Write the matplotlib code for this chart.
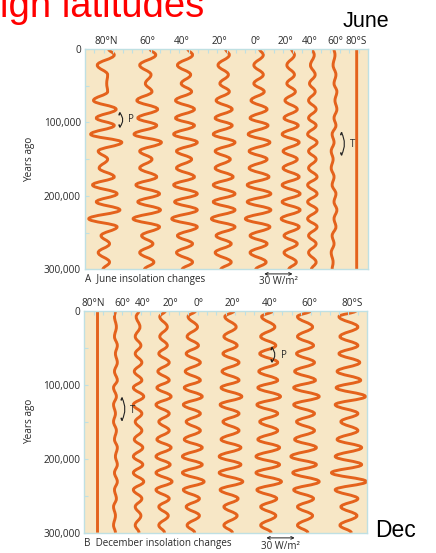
import matplotlib
matplotlib.use("Agg")
import matplotlib.pyplot as plt
from matplotlib.path import Path
from matplotlib.patches import PathPatch

# ---------------- data ----------------
# times of curve turning points, thousands of years ago
T_JUNE = [0, 8, 22, 35, 47, 58, 70, 82, 94, 104, 116, 127, 139, 150, 162,
          174, 185, 197, 208, 219, 231, 242, 254, 265, 277, 290, 300]
T_DEC = T_JUNE

JUNE_LATS = ["80°N", "60°", "40°", "20°", "0°", "20°", "40°", "60°", "80°S"]
DEC_LATS = ["80°N", "60°", "40°", "20°", "0°", "20°", "40°", "60°", "80°S"]

# insolation anomaly (W/m2) at each turning point, June
JUNE_80N = [4, 10, -8, 3, 2, 3, -12, 12, -9, 10, -15, 18, -7, 3, -6, 10, -13, 13, -9, 16, -17, 13, -4, 5, -7, 5, -2]
JUNE_60N = [3, 9, -8, 4, -2, 5, -11, 11, -10, 10, -14, 15, -8, 5, -8, 10, -12, 13, -10, 14, -15, 13, -6, 6, -8, 7, -3]
JUNE_40N = [3, 8, -8, 6, -4, 7, -10, 10, -10, 10, -12, 13, -9, 7, -9, 10, -12, 13, -11, 13, -14, 13, -8, 8, -9, 8, -3]
JUNE_20N = [2, 6, -6, 5, -4, 6, -8, 9, -9, 9, -11, 12, -9, 7, -9, 10, -11, 12, -11, 12, -13, 12, -8, 8, -9, 8, -3]
JUNE_EQ = [1, 5, -5, 5, -5, 6, -8, 9, -9, 10, -11, 12, -10, 9, -10, 11, -12, 13, -12, 13, -14, 12, -9, 9, -9, 8, -3]
JUNE_20S = [1, 4, -4, 4, -4, 5, -6, 7, -7, 8, -9, 9, -8, 7, -8, 9, -9, 10, -9, 10, -10, 9, -7, 7, -7, 6, -2]
JUNE_40S = [0, 2, -2, 3, -3, 3, -4, 4, -4, 4, -5, 5, -4, 4, -4, 5, -5, 5, -5, 5, -5, 5, -4, 4, -4, 4, -1]
JUNE_60S = [0, 1, -1, 2, 0, 3, 1, 3, 0, 2, -2, 0, -3, -1, -3, 0, -2, 2, 0, 3, 0, 2, -2, 0, -3, -1, -2]
JUNE_80S = [0] * 27

# December
DEC_80N = [0] * 27
DEC_60N = [0, -1, 1, -1, 2, 0, 2, -1, 2, -2, 1, -2, 0, -2, 1, -1, 2, 0, 2, -1, 2, -1, 1, -2, 0, -2, 0]
DEC_40N = [1, -2, 2, -3, 3, -3, 4, -4, 4, -5, 6, -5, 4, -3, 4, -4, 5, -5, 5, -5, 6, -5, 4, -3, 3, -3, 1]
DEC_20N = [2, -4, 4, -4, 4, -5, 6, -6, 6, -7, 8, -8, 6, -5, 6, -7, 8, -8, 7, -8, 9, -8, 6, -5, 5, -5, 1]
DEC_EQ = [3, -5, 5, -6, 6, -7, 8, -8, 8, -9, 10, -10, 8, -7, 8, -9, 10, -11, 10, -11, 12, -10, 7, -7, 7, -6, 2]
DEC_20S = [4, -6, 6, -7, 7, -8, 9, -9, 9, -10, 12, -11, 9, -8, 9, -10, 11, -12, 11, -12, 13, -11, 8, -7, 7, -7, 2]
DEC_40S = [5, -7, 7, -8, 8, -9, 10, -10, 10, -11, 13, -12, 10, -9, 10, -11, 12, -13, 12, -13, 14, -12, 9, -8, 8, -8, 3]
DEC_60S = [6, -8, 8, -8, 9, -9, 10, -11, 11, -12, 15, -12, 10, -9, 10, -11, 12, -15, 12, -13, 15, -12, 9, -8, 8, -8, 3]
DEC_80S = [8, -10, 10, -9, 10, -10, 12, -12, 13, -13, 18, -14, 10, -8, 10, -12, 14, -14, 14, -18, 19, -14, 10, -8, 9, -9, 3]

JUNE_SERIES = [JUNE_80N, JUNE_60N, JUNE_40N, JUNE_20N, JUNE_EQ, JUNE_20S, JUNE_40S, JUNE_60S, JUNE_80S]
DEC_SERIES = [DEC_80N, DEC_60N, DEC_40N, DEC_20N, DEC_EQ, DEC_20S, DEC_40S, DEC_60S, DEC_80S]

Y_TICK_LABELS = ["0", "", "100,000", "", "200,000", "", "300,000"]

# ---------------- layout / style ----------------
W, H = 436, 553
BG = "#f7e7c6"
EDGE = "#bfe0e3"
ORANGE = "#e4621c"
TXT = "#2a2a2a"
FONT = "Open Sans"

JUNE_BASE = [21, 66, 106, 147, 184, 218, 241, 264, 288]
JUNE_LABEL_X = [23, 66, 103, 143, 181, 212, 238, 265, 288]
DEC_BASE = [14, 33, 57, 84, 115, 155, 195, 234, 280]
DEC_LABEL_X = [9, 40, 62, 91, 121, 157, 197, 239, 284]

fig = plt.figure(figsize=(W / 100, H / 100), dpi=100)


def wave_path(times, offs, base):
    ys = [t * 1000 for t in times]
    verts = [(base + offs[0], ys[0])]
    codes = [Path.MOVETO]
    for i in range(1, len(ys)):
        d = ys[i] - ys[i - 1]
        verts += [(base + offs[i - 1], ys[i - 1] + 0.4 * d),
                  (base + offs[i], ys[i] - 0.4 * d),
                  (base + offs[i], ys[i])]
        codes += [Path.CURVE4] * 3
    return Path(verts, codes)


def bracket(ax, x, y0, y1, bulge):
    ym = (y0 + y1) / 2
    p = Path([(x, y0), (x + bulge, ym), (x, y1)], [Path.MOVETO, Path.CURVE3, Path.CURVE3])
    ax.add_patch(PathPatch(p, fill=False, edgecolor="#222222", lw=0.8))
    ax.plot([x, x - 0.8], [y0, y0 + 2500], color="#222222", lw=1.2, solid_capstyle="round")
    ax.plot([x, x - 0.8], [y1, y1 - 2500], color="#222222", lw=1.2, solid_capstyle="round")


def make_panel(rect, times, series, bases, label_x, labels, caption):
    ax = fig.add_axes(rect)
    ax.set_facecolor(BG)
    ax.set_xlim(0, 300)
    ax.set_ylim(300000, 0)
    for s in ax.spines.values():
        s.set_color(EDGE)
        s.set_linewidth(1.0)
    for offs, base in zip(series, bases):
        ax.add_patch(PathPatch(wave_path(times, offs, base), fill=False,
                               edgecolor=ORANGE, lw=2.1, capstyle="butt"))
    ax.set_xticks(range(10, 300, 10))
    ax.xaxis.tick_top()
    ax.tick_params(axis="x", direction="in", length=3, color=EDGE, labeltop=False)
    ax.set_yticks(range(0, 300001, 50000))
    ax.set_yticklabels(Y_TICK_LABELS, fontsize=7.2, color=TXT, family=FONT)
    ax.tick_params(axis="y", direction="in", length=3, color=EDGE, pad=3)
    for x, lab in zip(label_x, labels):
        ax.text(x, -2500, lab, ha="center", va="bottom", fontsize=7.2,
                color=TXT, family=FONT)
    ax.set_ylabel("Years ago", fontsize=7.2, color=TXT, family=FONT, labelpad=6)
    ax.text(0, 300000 + 14000, caption, ha="left", va="center", fontsize=7.1,
            color=TXT, family=FONT, clip_on=False)
    return ax


ax1 = make_panel([85 / W, 1 - 269.5 / H, 283 / W, 220.5 / H], T_JUNE, JUNE_SERIES,
                 JUNE_BASE, JUNE_LABEL_X, JUNE_LATS, "A  June insolation changes")
ax2 = make_panel([84.3 / W, 1 - 532.7 / H, 283 / W, 222 / H], T_DEC, DEC_SERIES,
                 DEC_BASE, DEC_LABEL_X, DEC_LATS, "B  December insolation changes")

# scale arrows
for ax, x0, ya, yt in [(ax1, 190, 306000, 317000), (ax2, 193, 307000, 318500)]:
    ax.annotate("", xy=(x0, ya), xytext=(x0 + 30, ya),
                arrowprops=dict(arrowstyle="<->", lw=0.7, color="#222222",
                                shrinkA=0, shrinkB=0, mutation_scale=5),
                annotation_clip=False)
    ax.text(x0 + 15, yt, "30 W/m²", ha="center", va="center", fontsize=7.0,
            color=TXT, family=FONT, clip_on=False)

# P and T brackets
bracket(ax1, 37, 87000, 106000, 6)
ax1.text(46, 96500, "P", fontsize=7, color=TXT, family=FONT, va="center")
bracket(ax1, 272, 114000, 144000, 6)
ax1.text(281, 130000, "T", fontsize=7, color=TXT, family=FONT, va="center")
bracket(ax2, 40, 118000, 148000, 6)
ax2.text(48, 135000, "T", fontsize=7, color=TXT, family=FONT, va="center")
bracket(ax2, 199, 50000, 69000, 6)
ax2.text(208, 61000, "P", fontsize=7, color=TXT, family=FONT, va="center")

# slide texts
fig.text(0, 1 - 17 / H, "igh latitudes", color="#ff0000", fontsize=27.5,
         family="Liberation Sans", ha="left", va="baseline")
fig.text(343 / W, 1 - 27 / H, "June", color="black", fontsize=15.5,
         family="Liberation Sans", ha="left", va="baseline")
fig.text(375 / W, 1 - 537 / H, "Dec", color="black", fontsize=16.5,
         family="Liberation Sans", ha="left", va="baseline")

fig.savefig("out.png", dpi=100)
